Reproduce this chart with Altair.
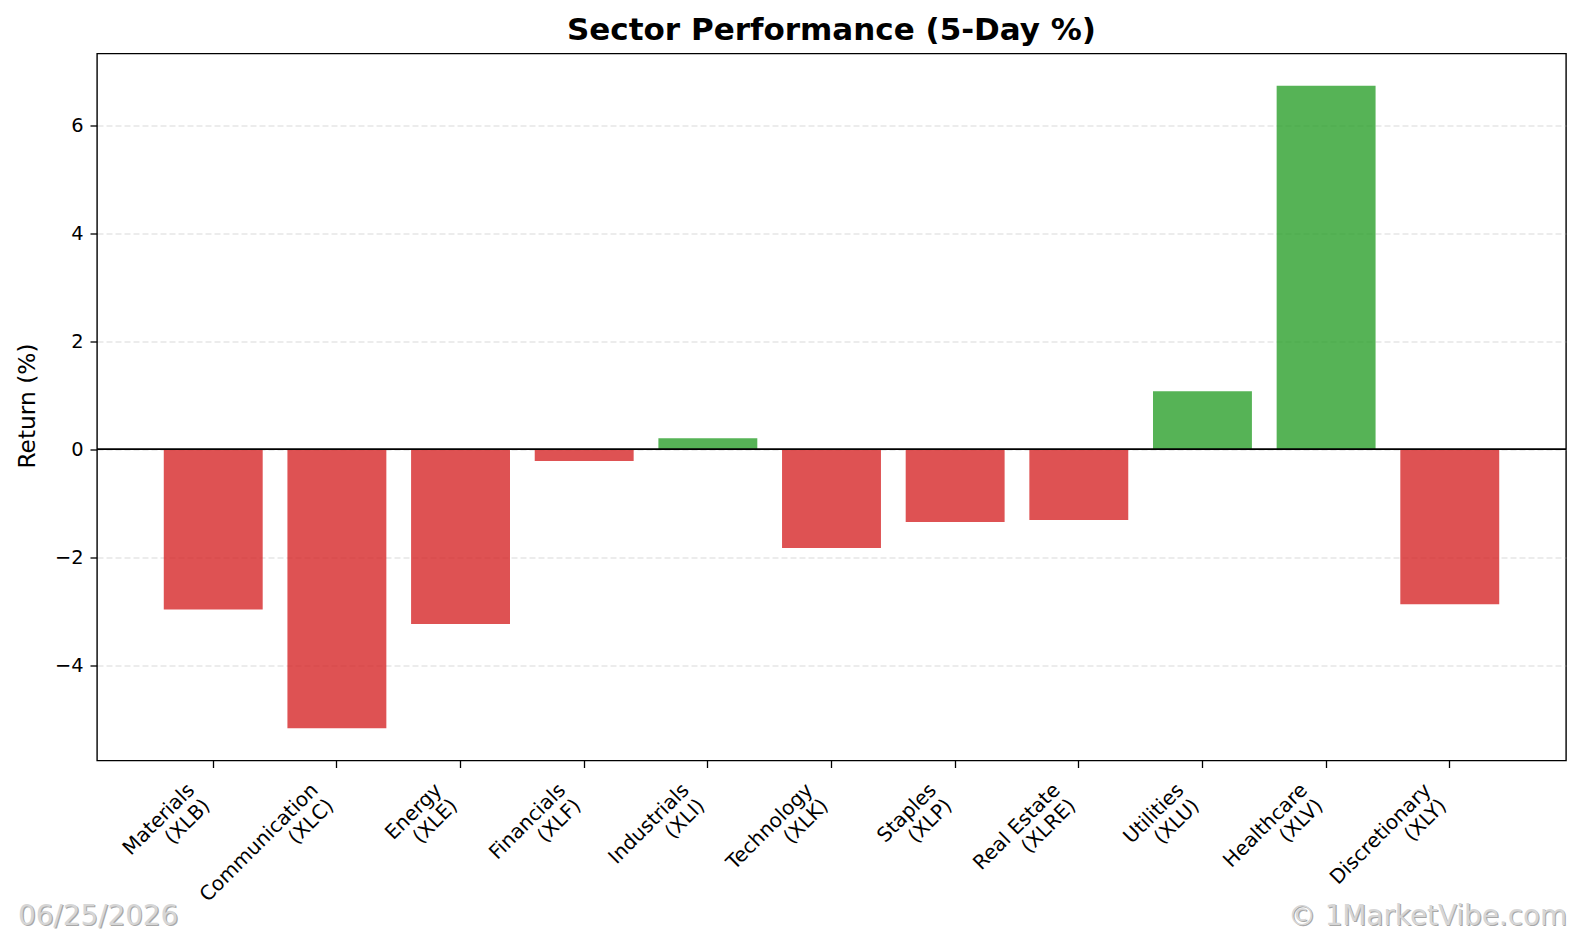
import altair as alt
import pandas as pd

# ---- data ----
sectors = ["Materials", "Communication", "Energy", "Financials", "Industrials",
           "Technology", "Staples", "Real Estate", "Utilities", "Healthcare",
           "Discretionary"]
tickers = ["XLB", "XLC", "XLE", "XLF", "XLI", "XLK", "XLP", "XLRE", "XLU", "XLV", "XLY"]
returns = [-2.97, -5.17, -3.24, -0.22, 0.20, -1.83, -1.35, -1.31, 1.07, 6.73, -2.87]
y_ticks = [-4, -2, 0, 2, 4, 6]

title_text = "Sector Performance (5-Day %)"
y_title = "Return (%)"
date_text = "06/25/2026"
credit_text = "© 1MarketVibe.com"

labels = [f"{s} ({t})" for s, t in zip(sectors, tickers)]
df = pd.DataFrame({
    "label": labels,
    "ret": returns,
    "sign": ["pos" if r >= 0 else "neg" for r in returns],
})

span = max(returns) - min(returns)
ymin = min(returns) - 0.05 * span
ymax = max(returns) + 0.05 * span

W, H = 1469, 707
FONT = "DejaVu Sans"

x_enc = alt.X(
    "label:N",
    sort=labels,
    scale=alt.Scale(type="band", domain=labels, paddingInner=0.2, paddingOuter=0.54),
    axis=alt.Axis(
        title=None,
        labelAngle=315,
        labelAlign="right",
        labelBaseline="top",
        labelFont=FONT,
        labelFontSize=20,
        labelLineHeight=22,
        labelOffset=-29,
        labelPadding=12,
        labelColor="black",
        labelLimit=0,
        labelOverlap=False,
        labelExpr="[substring(datum.label, 0, indexof(datum.label, ' (')), "
                  "substring(datum.label, indexof(datum.label, ' (') + 1)]",
        tickSize=7,
        tickWidth=1.3,
        tickColor="black",
        domain=False,
        grid=False,
    ),
)

y_scale = alt.Scale(domain=[ymin, ymax], nice=False, zero=False)

bars = alt.Chart(df).mark_bar(opacity=0.8).encode(
    x=x_enc,
    y=alt.Y(
        "ret:Q",
        scale=y_scale,
        axis=alt.Axis(
            values=y_ticks,
            format="d",
            title=y_title,
            titleFont=FONT,
            titleFontSize=23.3,
            titleFontWeight="normal",
            titleColor="black",
            titleAngle=270,
            titleAlign="center",
            titleBaseline="middle",
            titleX=-70,
            titleY=352,
            labelFont=FONT,
            labelFontSize=19.4,
            labelColor="black",
            labelPadding=7,
            tickSize=7,
            tickWidth=1.3,
            tickColor="black",
            domain=False,
            grid=True,
            gridColor="#b0b0b0",
            gridOpacity=0.3,
            gridDash=[6, 3],
            gridWidth=1.5,
        ),
    ),
    y2=alt.datum(0),
    color=alt.Color(
        "sign:N",
        scale=alt.Scale(domain=["pos", "neg"], range=["#2ca02c", "#d62728"]),
        legend=None,
    ),
)

zero_rule = alt.Chart(pd.DataFrame({"y": [0]})).mark_rule(
    color="black", strokeWidth=1.7
).encode(y=alt.Y("y:Q", scale=y_scale))

title_mark = alt.Chart(pd.DataFrame({"t": [title_text]})).mark_text(
    align="center", baseline="alphabetic", font=FONT, fontSize=31,
    fontWeight="bold", color="black",
).encode(text="t:N", x=alt.value(W / 2), y=alt.value(-13.5))

def watermark(text, x, align, dx, dy, color):
    return alt.Chart(pd.DataFrame({"t": [text]})).mark_text(
        align=align, baseline="alphabetic", font=FONT, fontSize=27.8,
        color=color, dx=dx, dy=dy,
    ).encode(text="t:N", x=alt.value(x), y=alt.value(871.5))

wm = (
    watermark(date_text, -79, "left", 1.2, 1.2, "#a8a8a8")
    + watermark(date_text, -79, "left", 0, 0, "#d6d6d6")
    + watermark(credit_text, 1470, "right", 1.2, 1.2, "#a8a8a8")
    + watermark(credit_text, 1470, "right", 0, 0, "#d6d6d6")
)

chart = (bars + zero_rule + title_mark + wm).properties(
    width=W,
    height=H,
    autosize=alt.AutoSizeParams(type="none"),
    padding={"left": 97, "top": 53.5, "right": 16, "bottom": 176.5},
).configure_view(
    stroke="black", strokeWidth=1.4
)

chart.save("out.html", embed_options={"renderer": "svg", "actions": False})
